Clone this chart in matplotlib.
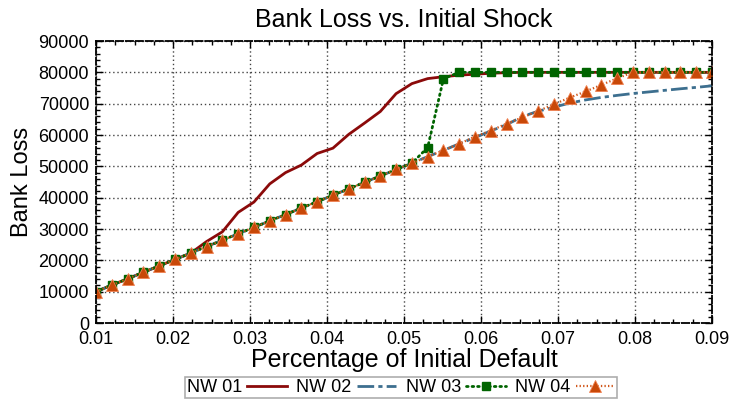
import numpy as np
import matplotlib
matplotlib.use("Agg")
import matplotlib.pyplot as plt
from matplotlib.ticker import MultipleLocator

plt.rcParams['font.family'] = ['Liberation Sans', 'DejaVu Sans']

# x: percentage of initial default (40 evenly spaced points from 0.01 to 0.09)
x = np.linspace(0.01, 0.09, 40)

base = [10000, 12100, 14100, 16200, 18200, 20300, 22300, 24400, 26400, 28500,
        30500, 32600, 34600, 36700, 38700, 40800, 42800, 44900, 46900, 49000,
        51000, 53100, 55100, 57200, 59200, 61300, 63300]

nw01 = [10000, 12100, 14100, 16200, 18200, 20300, 22300, 26000, 29100, 35300,
        38600, 44400, 48000, 50400, 54100, 55800, 60200, 63800, 67500, 73200,
        76400, 78000, 78600, 79100, 79400, 79700, 79900, 80000, 80000, 80000,
        80000, 80000, 80000, 80000, 80000, 80000, 80000, 80000, 80000, 80000]

nw02 = base + [65900, 67600, 68900, 70200, 71200, 72000, 72650, 73250, 73750,
               74250, 74750, 75200, 75700]

nw03 = base[:21] + [56000, 78000, 80000, 80000, 80000, 80000, 80000, 80000,
                    80000, 80000, 80000, 80000, 80000, 80000, 80000, 80000,
                    80000, 80000, 80000]

nw04 = base[:24] + [59500, 61400, 63650, 65600, 67700, 69800, 71950, 73900,
                    76000, 78100, 80000, 80000, 80000, 80000, 80000, 80000]

labels = ["NW 01", "NW 02", "NW 03", "NW 04"]
xticks = [0.01, 0.02, 0.03, 0.04, 0.05, 0.06, 0.07, 0.08, 0.09]
yticks = [0, 10000, 20000, 30000, 40000, 50000, 60000, 70000, 80000, 90000]

fig = plt.figure(figsize=(7.31, 3.99), dpi=100)
ax = fig.add_axes([96/731, 1-323/399, (712-96)/731, (323-41)/399])

ax.plot(x, nw01, color='#8b0a0a', lw=2.0, ls='-', label=labels[0])
ax.plot(x, nw02, color='#3d6f8f', lw=2.0, ls=(0, (6, 1.5, 1.5, 1.5)), label=labels[1])
ax.plot(x, nw03, color='#006400', lw=2.0, ls=(0, (0.6, 1.4)), marker='s',
        ms=6, mec='#006400', mfc='#006400', label=labels[2], dash_capstyle='round')
ax.plot(x, nw04, color='#d0561a', lw=1.6, ls=(0, (0.6, 1.0)), marker='^',
        ms=9, mec='#f08050', mew=0.6, mfc='#c84808', label=labels[3])

ax.set_xlim(0.01, 0.09)
ax.set_ylim(0, 90000)
ax.set_xticks(xticks)
ax.set_yticks(yticks)
ax.set_xticklabels([f"{t:g}" for t in xticks])
ax.set_yticklabels([str(t) for t in yticks])
ax.xaxis.set_minor_locator(MultipleLocator(0.0025))
ax.yaxis.set_minor_locator(MultipleLocator(2000))
ax.tick_params(which='both', direction='in', top=True, right=True, labelsize=13, colors='black')
ax.tick_params(which='major', length=5, width=1)
ax.tick_params(which='minor', length=3, width=1)
ax.tick_params(axis='x', pad=6)
ax.tick_params(axis='y', pad=5)

ax.grid(True, which='major', color='#444444', ls=(0, (1, 2)), lw=1.0)

for s in ax.spines.values():
    s.set_linestyle((0, (4, 1.5)))
    s.set_linewidth(1.3)
    s.set_color('black')

ax.set_title("Bank Loss vs. Initial Shock", fontsize=18, pad=10)
ax.set_xlabel("Percentage of Initial Default", fontsize=18, labelpad=0)
ax.set_ylabel("Bank Loss", fontsize=17, labelpad=4)

leg = fig.legend(loc='center', bbox_to_anchor=(401/731, 1-387.5/399), ncol=4,
                 markerfirst=False, numpoints=1, fontsize=13, frameon=True,
                 fancybox=False, edgecolor='#999999', handlelength=2.2,
                 columnspacing=0.5, handletextpad=0.3, borderpad=0.1,
                 borderaxespad=0)
leg.get_frame().set_linewidth(1.2)

fig.savefig("out.png", dpi=100)
